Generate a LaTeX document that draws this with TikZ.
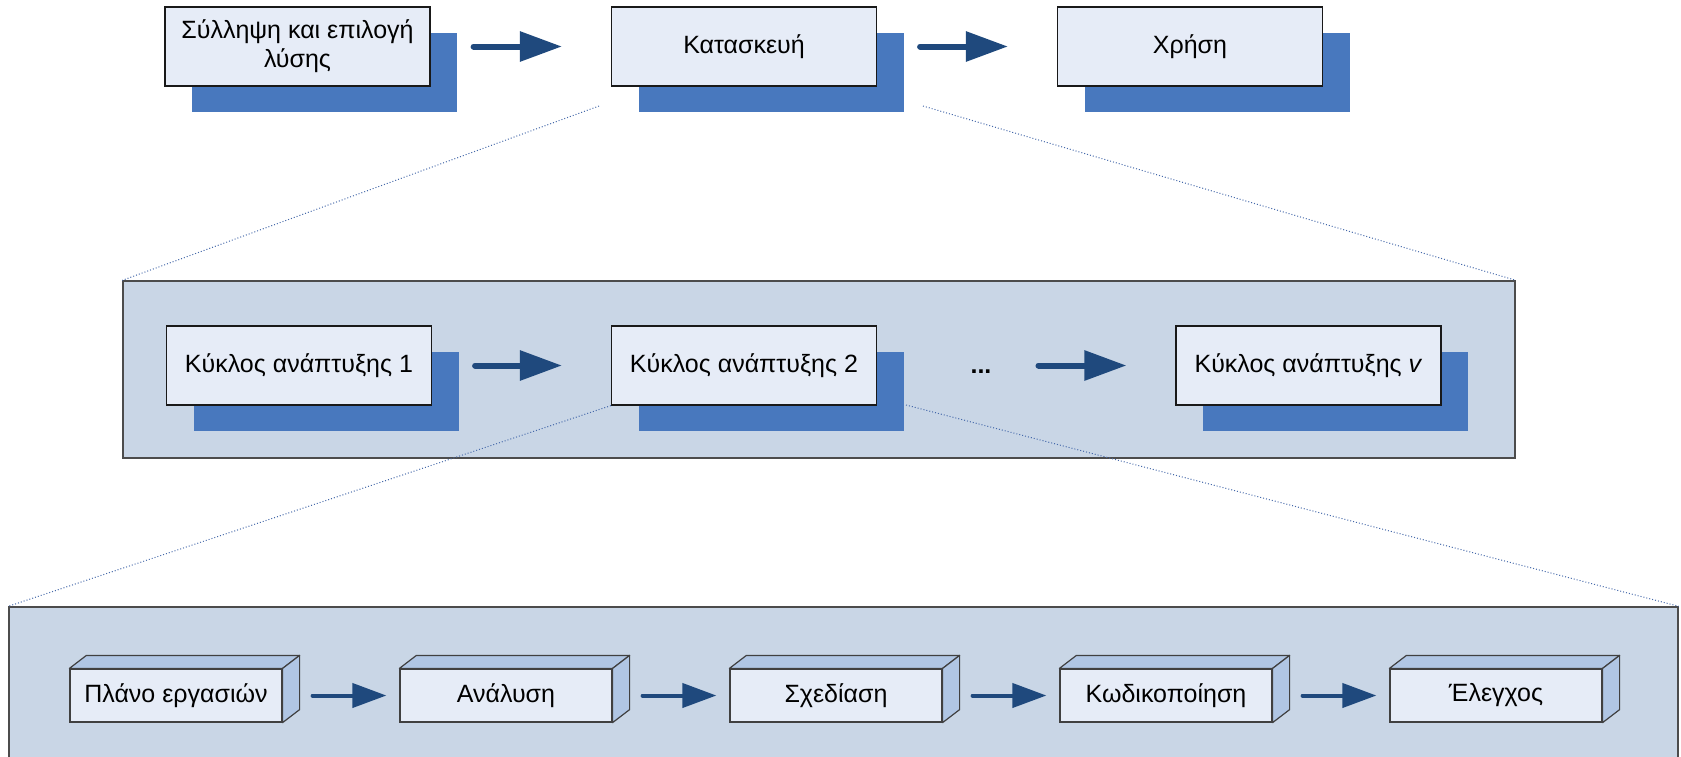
\documentclass[tikz,border=0pt]{standalone}
\usepackage{fontspec}
\setmainfont{Liberation Sans}
\usetikzlibrary{arrows.meta}
\usetikzlibrary{shadows}
\definecolor{cardfill}{RGB}{230,236,247}
\definecolor{shadowblue}{RGB}{72,120,190}
\definecolor{panelfill}{RGB}{201,214,230}
\definecolor{sidefill}{RGB}{176,198,228}
\definecolor{arrowblue}{RGB}{31,73,125}
\definecolor{zoomblue}{RGB}{70,105,170}
\tikzset{
  stage/.style={draw=black!90, line width=0.6pt, fill=cardfill, minimum width=132.5pt, minimum height=39.5pt, inner sep=0pt, align=center,
    drop shadow={shadow xshift=13.5pt, shadow yshift=-13pt, fill=shadowblue, opacity=1}},
  task/.style={draw=black!75, line width=0.6pt, fill=cardfill, minimum width=106pt, minimum height=26.5pt, inner sep=0pt},
  face/.style={draw=black!75, line width=0.6pt, fill=sidefill, line join=round},
  panel/.style={draw=black!70, line width=0.7pt, fill=panelfill, inner sep=0pt},
  flow/.style={draw=arrowblue, line width=3pt, line cap=round, -{Triangle[length=21pt,width=14.5pt]}, shorten <=21.5pt, shorten >=24.5pt},
  smallflow/.style={draw=arrowblue, line width=2pt, line cap=round, -{Triangle[length=17pt,width=12pt]}, shorten <=15pt, shorten >=6.5pt},
  zoomline/.style={draw=zoomblue, line width=0.5pt, densely dotted},
}

\begin{document}
\begin{tikzpicture}[x=0.5pt,y=-0.5pt,font=\fontsize{12.5pt}{14.5pt}\selectfont]
    \path[use as bounding box,clip] (0,0) rectangle (1681,756);

    \node[panel, minimum width=696pt, minimum height=88.5pt] (cycles) at (819,369.5) {};
    \node[panel, minimum width=834.5pt, minimum height=100pt] (phases) at (843.5,707) {};

    \node[stage] (concept) at (297.5,46.5) {Σύλληψη και επιλογή\\λύσης};
    \node[stage] (build) at (744,46.5) {Κατασκευή};
    \node[stage] (use) at (1190,46.5) {Χρήση};

    \node[stage] (cycle1) at (299,365.5) {Κύκλος ανάπτυξης 1};
    \node[stage] (cycle2) at (744,365.5) {Κύκλος ανάπτυξης 2};
    \node[] (dots) at (981,372) {\textbf{...}};
    \node[stage] (cyclen) at (1308.5,365.5) {Κύκλος ανάπτυξης \textit{v}};

    \node[task] (plan) at (176,695.5) {Πλάνο εργασιών};
    \node[task] (analysis) at (506,695.5) {Ανάλυση};
    \node[task] (design) at (836,695.5) {Σχεδίαση};
    \node[task] (coding) at (1166,695.5) {Κωδικοποίηση};
    \node[task] (testing) at (1496,695.5) {Έλεγχος};

    \foreach \n in {plan,analysis,design,coding,testing} {
      \draw[face] (\n.north west) -- ++(8.5pt,6.5pt) -- ([shift={(8.5pt,6.5pt)}]\n.north east) -- (\n.north east) -- cycle;
      \draw[face] (\n.north east) -- ++(8.5pt,6.5pt) -- ([shift={(8.5pt,6.5pt)}]\n.south east) -- (\n.south east) -- cycle;
    }

    \draw[flow] (concept) -- (build);
    \draw[flow] (build) -- (use);
    \draw[flow] (cycle1) -- (cycle2);
    \draw[flow, shorten <=20pt] (dots.east |- cyclen) -- (cyclen);

    \draw[smallflow] (plan) -- (analysis);
    \draw[smallflow] (analysis) -- (design);
    \draw[smallflow] (design) -- (coding);
    \draw[smallflow] (coding) -- (testing);

    \coordinate (buildL) at (599,106);
    \coordinate (buildR) at (923,106);
    \coordinate (cycle2R) at (906,405);
    \draw[zoomline] (buildL) -- (cycles.north west);
    \draw[zoomline] (buildR) -- (cycles.north east);
    \draw[zoomline] (cycle2.south west) -- (phases.north west);
    \draw[zoomline] (cycle2R) -- (phases.north east);
\end{tikzpicture}
\end{document}
